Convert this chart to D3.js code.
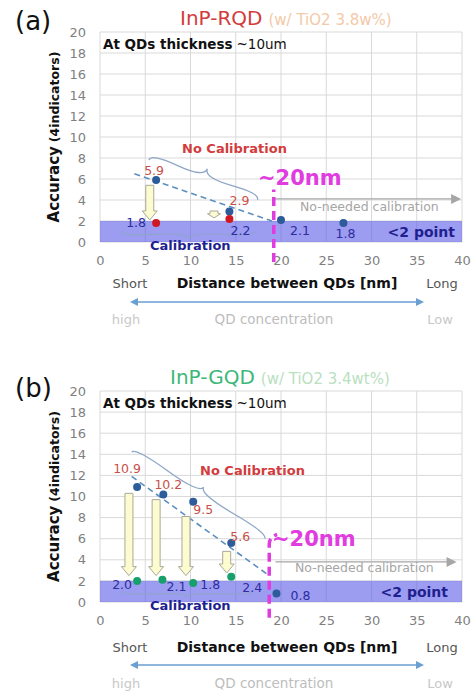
<!DOCTYPE html>
<html>
<head>
<meta charset="utf-8">
<script src="https://cdn.jsdelivr.net/npm/d3@7"></script>
<style>
  body { margin: 0; background: #fff; }
  text { font-family: "DejaVu Sans", Verdana, sans-serif; }
</style>
</head>
<body>
<div id="chart"></div>
<script>
// ---- data ----
const xTicks = [0, 5, 10, 15, 20, 25, 30, 35, 40];
const yTicks = [0, 2, 4, 6, 8, 10, 12, 14, 16, 18, 20];

// (a) InP-RQD : blue = no calibration, red = calibrated
const rqdRawX = [6.2, 14.3, 20.0, 26.9];
const rqdRawY = [5.9, 2.9, 2.1, 1.8];
const rqdCalX = [6.2, 14.3];
const rqdCalY = [1.8, 2.2];
const rqdArrowX = [5.5, 12.6];
const rqdArrowTop = [5.4, 2.95];
const rqdArrowTip = [2.1, 2.3];

// (b) InP-GQD : blue = no calibration, green = calibrated
const gqdRawX = [4.1, 7.0, 10.3, 14.5, 19.5];
const gqdRawY = [10.9, 10.2, 9.5, 5.6, 0.8];
const gqdCalX = [4.1, 6.9, 10.3, 14.5];
const gqdCalY = [2.0, 2.1, 1.8, 2.4];
const gqdArrowX = [3.2, 6.2, 9.5, 14.0];
const gqdArrowTop = [10.3, 9.7, 8.1, 4.8];
const gqdArrowTip = [2.5, 2.5, 2.5, 2.75];

// ---- helpers ----
function bracePath(x1, y1, x2, y2, w, q){
  let dx = x1 - x2, dy = y1 - y2;
  const len = Math.sqrt(dx*dx + dy*dy);
  dx /= len; dy /= len;
  const qx1 = x1 + q*w*dy, qy1 = y1 - q*w*dx;
  const qx2 = (x1 - .25*len*dx) + (1-q)*w*dy, qy2 = (y1 - .25*len*dy) - (1-q)*w*dx;
  const tx = (x1 - .5*len*dx) + w*dy, ty = (y1 - .5*len*dy) - w*dx;
  const qx3 = x2 + q*w*dy, qy3 = y2 - q*w*dx;
  const qx4 = (x1 - .75*len*dx) + (1-q)*w*dy, qy4 = (y1 - .75*len*dy) - (1-q)*w*dx;
  return `M${x1},${y1} Q${qx1},${qy1} ${qx2},${qy2} T${tx},${ty} M${x2},${y2} Q${qx3},${qy3} ${qx4},${qy4} T${tx},${ty}`;
}
function downArrow(cx, top, tip, sw, hw, hh){
  const b = tip - hh;
  return `M${cx-sw/2},${top} L${cx+sw/2},${top} L${cx+sw/2},${b} L${cx+hw/2},${b} L${cx},${tip} L${cx-hw/2},${b} L${cx-sw/2},${b} Z`;
}

const svg = d3.select("#chart").append("svg")
  .attr("width", 471)
  .attr("height", 691);

const panels = [
  {
    tag: "(a)", tagY: 30,
    title: "InP-RQD", titleColor: "#d23c3c", sub: "(w/ TiO2 3.8w%)", subColor: "#f3c9a8",
    titleX: 180, titleY: 25,
    top: 32, bottom: 242,
    rawX: rqdRawX, rawY: rqdRawY, calX: rqdCalX, calY: rqdCalY, calColor: "#d01824",
    rawOff: [[-2,-9],[10,-11],[19,11],[2,11]],
    calOff: [[-20,0],[11,12]],
    arrX: rqdArrowX, arrTop: rqdArrowTop, arrTip: rqdArrowTip,
    dash: [[3.8, 6.5], [19.0, 2.0]],
    braceTop: [[5.4, 7.8], [17.4, 4.0], -12],
    noCal: [182, 153],
    braceBot: [[2.4, 1.0], [17.1, 1.0], 7],
    cal: [150, 250],
    magX: 19.2, magTop: 5.0, magBot: -1.9, magCurve: false,
    nm: [258, 185],
    needY: 4.1, needX0: 19.3, needX1: 39.9, needText: [300, 211],
    pt: [455, 237],
    xLab: 288, arrowY: 302, concY: 324
  },
  {
    tag: "(b)", tagY: 397,
    title: "InP-GQD", titleColor: "#3cb878", sub: "(w/ TiO2 3.4wt%)", subColor: "#b9e0bf",
    titleX: 170, titleY: 384,
    top: 391, bottom: 602,
    rawX: gqdRawX, rawY: gqdRawY, calX: gqdCalX, calY: gqdCalY, calColor: "#17a06c",
    rawOff: [[-10,-18],[5,-10],[10,8],[9,-6],[24,2]],
    calOff: [[-15,4],[14,7],[17,2],[21,11]],
    arrX: gqdArrowX, arrTop: gqdArrowTop, arrTip: gqdArrowTip,
    dash: [[3.5, 11.9], [18.7, 2.5]],
    braceTop: [[3.5, 14.2], [18.2, 6.0], -10],
    noCal: [200, 475],
    braceBot: [[2.4, 1.0], [16.8, 1.0], 6],
    cal: [150, 610],
    magX: 18.7, magTop: 6.2, magBot: -1.5, magCurve: true,
    nm: [272, 546],
    needY: 3.8, needX0: 19.4, needX1: 39.4, needText: [295, 572],
    pt: [448, 597],
    xLab: 652, arrowY: 665, concY: 688
  }
];

panels.forEach(p => {
  const x = d3.scaleLinear().domain([0, 40]).range([100, 462]);
  const y = d3.scaleLinear().domain([0, 20]).range([p.bottom, p.top]);
  const g = svg.append("g");

  // panel tag + title
  g.append("text").attr("x", 15).attr("y", p.tagY)
    .style("font-size", "26px").style("fill", "#111").text(p.tag);
  const t = g.append("text").attr("x", p.titleX).attr("y", p.titleY);
  t.append("tspan").style("font-size", "20px").style("fill", p.titleColor).text(p.title);
  t.append("tspan").attr("dx", 6).style("font-size", "15px").style("fill", p.subColor).text(p.sub);

  // grid
  g.append("g").selectAll("line").data(xTicks).enter().append("line")
    .attr("x1", d => x(d)).attr("x2", d => x(d))
    .attr("y1", y(0)).attr("y2", y(20))
    .attr("stroke", "#d9d9d9").attr("stroke-width", 1);
  g.append("g").selectAll("line").data(yTicks).enter().append("line")
    .attr("x1", x(0)).attr("x2", x(40))
    .attr("y1", d => y(d)).attr("y2", d => y(d))
    .attr("stroke", "#d9d9d9").attr("stroke-width", 1);

  // <2 point band
  g.append("rect")
    .attr("x", x(0)).attr("y", y(2))
    .attr("width", x(40) - x(0)).attr("height", y(0) - y(2))
    .attr("fill", "#5a5ae6").attr("opacity", 0.6);

  // axes (labels only)
  const ax = g.append("g").attr("transform", `translate(0,${y(0)})`)
    .call(d3.axisBottom(x).tickValues(xTicks).tickSize(0).tickPadding(14));
  const ay = g.append("g").attr("transform", `translate(${x(0)},0)`)
    .call(d3.axisLeft(y).tickValues(yTicks).tickSize(0).tickPadding(14));
  [ax, ay].forEach(a => {
    a.select(".domain").remove();
    a.selectAll("text").style("font-size", "13px").style("fill", "#7f7f7f")
      .style("font-family", '"DejaVu Sans", Verdana, sans-serif');
  });

  // y axis title
  const yt = g.append("text")
    .attr("transform", `translate(59,${(y(0)+y(20))/2}) rotate(-90)`)
    .attr("text-anchor", "middle").style("fill", "#111").style("font-weight", "bold");
  yt.append("tspan").style("font-size", "15px").text("Accuracy");
  yt.append("tspan").attr("dx", 4).style("font-size", "12.5px").text("(4indicators)");

  // thickness note
  const th = g.append("text").attr("x", 103).attr("y", y(20) + 17).style("font-size", "13.5px").style("fill", "#111");
  th.append("tspan").style("font-weight", "bold").text("At QDs thickness");
  th.append("tspan").attr("dx", 4).text("~10um");

  // x axis captions
  g.append("text").attr("x", 130).attr("y", p.xLab).attr("text-anchor", "middle")
    .style("font-size", "13px").style("fill", "#555").text("Short");
  g.append("text").attr("x", 287).attr("y", p.xLab).attr("text-anchor", "middle")
    .style("font-size", "14px").style("font-weight", "bold").style("fill", "#111").text("Distance between QDs [nm]");
  g.append("text").attr("x", 442).attr("y", p.xLab).attr("text-anchor", "middle")
    .style("font-size", "13px").style("fill", "#555").text("Long");
  g.append("line").attr("x1", 136).attr("x2", 418).attr("y1", p.arrowY).attr("y2", p.arrowY)
    .attr("stroke", "#6a9fd2").attr("stroke-width", 1.3);
  g.append("path").attr("d", `M130,${p.arrowY} l8,-4 l0,8 Z M424,${p.arrowY} l-8,-4 l0,8 Z`).attr("fill", "#6a9fd2");
  g.append("text").attr("x", 126).attr("y", p.concY).attr("text-anchor", "middle")
    .style("font-size", "13px").style("fill", "#c8c8c8").text("high");
  g.append("text").attr("x", 274).attr("y", p.concY).attr("text-anchor", "middle")
    .style("font-size", "13.5px").style("fill", "#bdbdbd").text("QD concentration");
  g.append("text").attr("x", 440).attr("y", p.concY).attr("text-anchor", "middle")
    .style("font-size", "13px").style("fill", "#c8c8c8").text("Low");

  // no-needed calibration arrow
  g.append("line").attr("x1", x(p.needX0)).attr("x2", x(p.needX1) - 8)
    .attr("y1", y(p.needY)).attr("y2", y(p.needY))
    .attr("stroke", "#a6a6a6").attr("stroke-width", 1.2);
  g.append("path").attr("d", `M${x(p.needX1)},${y(p.needY)} l-10,-5 l0,10 Z`).attr("fill", "#a6a6a6");
  g.append("text").attr("x", p.needText[0]).attr("y", p.needText[1])
    .style("font-size", "12.5px").style("fill", "#a6a6a6").text("No-needed calibration");

  // trend dashed line
  g.append("line")
    .attr("x1", x(p.dash[0][0])).attr("y1", y(p.dash[0][1]))
    .attr("x2", x(p.dash[1][0])).attr("y2", y(p.dash[1][1]))
    .attr("stroke", "#5b8fc0").attr("stroke-width", 1.6).attr("stroke-dasharray", "6,4");

  // braces
  const bt = p.braceTop;
  g.append("path").attr("d", bracePath(x(bt[0][0]), y(bt[0][1]), x(bt[1][0]), y(bt[1][1]), bt[2], 0.6))
    .attr("fill", "none").attr("stroke", "#8ea6c6").attr("stroke-width", 1.3);
  const bb = p.braceBot;
  g.append("path").attr("d", bracePath(x(bb[0][0]), y(bb[0][1]), x(bb[1][0]), y(bb[1][1]), bb[2], 0.6))
    .attr("fill", "none").attr("stroke", "#8ea6c6").attr("stroke-width", 1.2).attr("opacity", 0.8);

  // calibration arrows
  g.append("g").selectAll("path").data(p.arrX).enter().append("path")
    .attr("d", (d, i) => {
      const top = y(p.arrTop[i]), tip = y(p.arrTip[i]);
      const hh = Math.min(9, (tip - top) * 0.6);
      const small = (tip - top) < 14;
      return downArrow(x(d), top, tip, 8, small ? 13 : 15, hh);
    })
    .attr("fill", "#fdfbd0").attr("stroke", "#a9a99a").attr("stroke-width", 1);

  // points
  g.append("g").selectAll("circle").data(p.rawX).enter().append("circle")
    .attr("cx", d => x(d)).attr("cy", (d, i) => y(p.rawY[i])).attr("r", 4)
    .attr("fill", "#2e5c9a");
  g.append("g").selectAll("circle").data(p.calX).enter().append("circle")
    .attr("cx", d => x(d)).attr("cy", (d, i) => y(p.calY[i])).attr("r", 4)
    .attr("fill", p.calColor);

  // value labels
  const fmt = d3.format(".1f");
  g.append("g").selectAll("text").data(p.rawY).enter().append("text")
    .attr("x", (d, i) => x(p.rawX[i]) + p.rawOff[i][0])
    .attr("y", (d, i) => y(d) + p.rawOff[i][1])
    .attr("dy", "0.35em").attr("text-anchor", "middle")
    .style("font-size", "12.5px")
    .style("fill", d => d > 2.5 ? "#c8504a" : "#2c2ca0")
    .text(d => fmt(d));
  g.append("g").selectAll("text").data(p.calY).enter().append("text")
    .attr("x", (d, i) => x(p.calX[i]) + p.calOff[i][0])
    .attr("y", (d, i) => y(d) + p.calOff[i][1])
    .attr("dy", "0.35em").attr("text-anchor", "middle")
    .style("font-size", "12.5px").style("fill", "#2c2ca0")
    .text(d => fmt(d));

  // annotations
  g.append("text").attr("x", p.noCal[0]).attr("y", p.noCal[1])
    .style("font-size", "13px").style("font-weight", "bold").style("fill", "#d23c3c").text("No Calibration");
  g.append("text").attr("x", p.cal[0]).attr("y", p.cal[1])
    .style("font-size", "13px").style("font-weight", "bold").style("fill", "#1f1f8f").text("Calibration");
  g.append("text").attr("x", p.pt[0]).attr("y", p.pt[1]).attr("text-anchor", "end")
    .style("font-size", "14px").style("font-weight", "bold").style("fill", "#1f1f8f").text("<2 point");

  // ~20nm marker
  const mx = x(p.magX), mt = y(p.magTop), mb = y(p.magBot);
  const md = p.magCurve ? `M${mx},${mb} L${mx},${mt+8} Q${mx},${mt} ${mx+8},${mt-2}` : `M${mx},${mb} L${mx},${mt}`;
  g.append("path").attr("d", md).attr("fill", "none")
    .attr("stroke", "#e03ce0").attr("stroke-width", 3.5).attr("stroke-dasharray", "9,5");
  g.append("text").attr("x", p.nm[0]).attr("y", p.nm[1])
    .style("font-size", "21px").style("font-weight", "bold").style("fill", "#e03ce0").text("~20nm");
});
</script>
</body>
</html>
